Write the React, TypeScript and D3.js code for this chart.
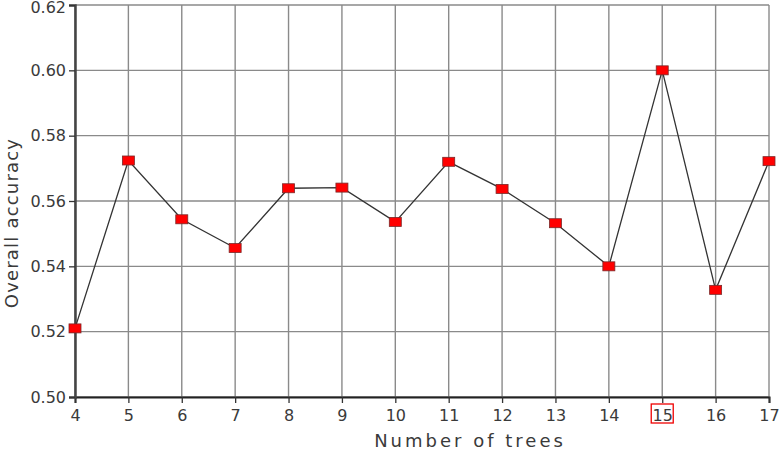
import React, { useRef, useEffect } from "react";
import * as d3 from "d3";

const trees = [4, 5, 6, 7, 8, 9, 10, 11, 12, 13, 14, 15, 16, 17];
const accuracy = [0.521, 0.5724, 0.5544, 0.5456, 0.5639, 0.5641, 0.5536, 0.572, 0.5637, 0.5532, 0.54, 0.6, 0.5328, 0.5722];
const yTicks = [0.5, 0.52, 0.54, 0.56, 0.58, 0.6, 0.62];
const highlighted = 15;

const W = 780;
const H = 451;
const margin = { top: 5, right: 11, bottom: 54, left: 75 };

function App() {
  const svgRef = useRef<SVGSVGElement>(null);

  useEffect(() => {
    const svg = d3.select(svgRef.current);
    svg.selectAll("*").remove();
    const font = "'DejaVu Sans', Verdana, sans-serif";

    const x = d3.scaleLinear().domain([4, 17]).range([margin.left, W - margin.right]);
    const y = d3.scaleLinear().domain([0.5, 0.62]).range([H - margin.bottom, margin.top]);

    // grid
    svg.append("g")
      .selectAll("line")
      .data(trees)
      .join("line")
      .attr("x1", (d) => x(d))
      .attr("x2", (d) => x(d))
      .attr("y1", y(0.5))
      .attr("y2", y(0.62))
      .attr("stroke", "#8a8a8a")
      .attr("stroke-width", 1.4);
    svg.append("g")
      .selectAll("line")
      .data(yTicks)
      .join("line")
      .attr("x1", x(4))
      .attr("x2", x(17))
      .attr("y1", (d) => y(d))
      .attr("y2", (d) => y(d))
      .attr("stroke", "#8a8a8a")
      .attr("stroke-width", 1.4);

    // axes
    const xAxis = d3.axisBottom(x).tickValues(trees).tickSize(6).tickFormat(d3.format("d"));
    const gx = svg.append("g").attr("transform", `translate(0,${y(0.5)})`).call(xAxis);
    gx.select(".domain").attr("stroke", "#222").attr("stroke-width", 2);
    gx.selectAll(".tick line").attr("stroke", "#333").attr("stroke-width", 1.3);
    gx.selectAll(".tick text")
      .attr("font-family", font)
      .attr("font-size", 16)
      .attr("fill", "#3a3a3a")
      .attr("dy", "0.95em");

    const yAxis = d3.axisLeft(y).tickValues(yTicks).tickSize(6).tickFormat(d3.format(".2f"));
    const gy = svg.append("g").attr("transform", `translate(${x(4)},0)`).call(yAxis);
    gy.select(".domain").attr("stroke", "#444").attr("stroke-width", 2.5);
    gy.selectAll(".tick line").attr("stroke", "#333").attr("stroke-width", 1.3);
    gy.selectAll(".tick text")
      .attr("font-family", font)
      .attr("font-size", 16)
      .attr("fill", "#3a3a3a")
      .attr("x", -9)
      .attr("dy", (d) => (d === 0.62 ? "0.45em" : "0.32em"));

    // highlight box around 15
    const hx = x(highlighted);
    svg.append("rect")
      .attr("x", hx - 11)
      .attr("y", y(0.5) + 7)
      .attr("width", 22)
      .attr("height", 19)
      .attr("fill", "none")
      .attr("stroke", "#e00")
      .attr("stroke-width", 1.3);

    // line
    const lineGen = d3.line<number>()
      .x((d, i) => x(trees[i]))
      .y((d) => y(d));
    svg.append("path")
      .datum(accuracy)
      .attr("d", lineGen)
      .attr("fill", "none")
      .attr("stroke", "#333")
      .attr("stroke-width", 1.3);

    // markers
    svg.append("g")
      .selectAll("rect")
      .data(accuracy)
      .join("rect")
      .attr("x", (d, i) => x(trees[i]) - 6)
      .attr("y", (d) => y(d) - 4.5)
      .attr("width", 12)
      .attr("height", 9)
      .attr("fill", "#ff0000")
      .attr("stroke", "#7a2a2a")
      .attr("stroke-width", 0.8);

    // titles (the source places the x title right of centre)
    svg.append("text")
      .attr("x", 470)
      .attr("y", 447)
      .attr("text-anchor", "middle")
      .attr("font-family", font)
      .attr("font-size", 18)
      .attr("letter-spacing", 3)
      .attr("fill", "#3a3a3a")
      .text("Number of trees");
    svg.append("text")
      .attr("transform", `translate(18,223) rotate(-90)`)
      .attr("text-anchor", "middle")
      .attr("font-family", font)
      .attr("font-size", 18)
      .attr("letter-spacing", 1.2)
      .attr("fill", "#3a3a3a")
      .text("Overall accuracy");
  }, []);

  return (
    <svg
      ref={svgRef}
      width={W}
      height={H}
      style={{ position: "absolute", left: 0, top: 0, background: "#fff" }}
    />
  );
}

export default App;
